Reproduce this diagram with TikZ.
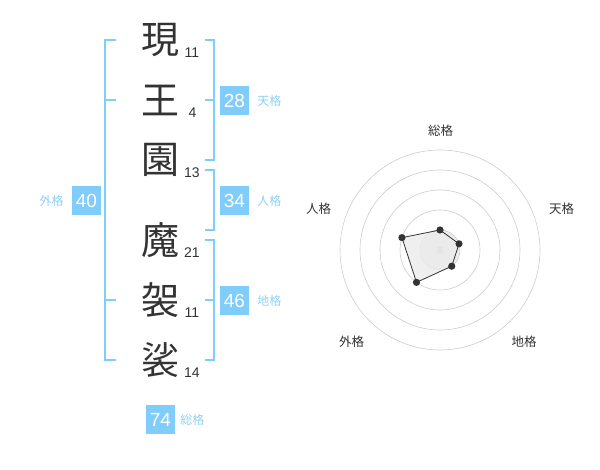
\documentclass[tikz,border=0pt]{standalone}
\usepackage{fontspec}
\setmainfont{Liberation Sans}
\newfontfamily\jpfont{Noto Sans CJK JP}
\usepackage{xcolor}
\usetikzlibrary{positioning}

\definecolor{kakublue}{HTML}{80CCFA}
\definecolor{kakulabel}{HTML}{8FD0F5}
\definecolor{inkgray}{HTML}{333333}
\definecolor{ringgray}{HTML}{CCCCCC}

\begin{document}
\begin{tikzpicture}[
    x=1pt,
    y=-1pt,
    kanji/.style={font=\jpfont\fontsize{38}{38}\selectfont,text=inkgray,inner sep=0pt},
    strokes/.style={font=\fontsize{14}{14}\selectfont,text=inkgray,inner sep=0pt},
    kakubox/.style={fill=kakublue,text=white,minimum size=29pt,inner sep=0pt,
        font=\fontsize{19}{19}\selectfont},
    kakuname/.style={font=\jpfont\fontsize{12}{12}\selectfont,text=kakulabel,inner sep=0pt},
    bracket/.style={draw=kakublue,line width=2pt},
    ring/.style={draw=ringgray,line width=0.6pt},
    axislabel/.style={font=\jpfont\fontsize{12.5}{12.5}\selectfont,text=inkgray,inner sep=0pt}
]
\useasboundingbox (0,0) rectangle (600,470);

% Name characters
\node[kanji] (c1) at (160,40) {現};
\node[kanji] (c2) at (160,100) {王};
\node[kanji] (c3) at (160,160) {園};
\node[kanji] (c4) at (160,240) {魔};
\node[kanji] (c5) at (160,300) {袈};
\node[kanji] (c6) at (160,360) {裟};

% Stroke counts
\node[strokes] (s1) at (192,53) {11};
\node[strokes] (s2) at (192.5,113) {4};
\node[strokes] (s3) at (192,173) {13};
\node[strokes] (s4) at (192,253) {21};
\node[strokes] (s5) at (192,313) {11};
\node[strokes] (s6) at (192,373) {14};

% Brackets
\draw[bracket] (115.5,40) -- (105,40) -- (105,360) -- (115.5,360);
\draw[bracket] (105,100) -- (115.5,100);
\draw[bracket] (105,300) -- (115.5,300);
\draw[bracket] (204.5,40) -- (214,40) -- (214,160) -- (204.5,160);
\draw[bracket] (204.5,100) -- (214,100);
\draw[bracket] (204.5,170) -- (214,170) -- (214,230) -- (204.5,230);
\draw[bracket] (204.5,240) -- (214,240) -- (214,360) -- (204.5,360);
\draw[bracket] (204.5,300) -- (214,300);

% Totals
\node[kakubox] (ten) at (234.5,100.5) {28};
\node[kakuname,right=8pt of ten] (tenname) {天格};
\node[kakubox] (jin) at (234.5,200.5) {34};
\node[kakuname,right=8pt of jin] (jinname) {人格};
\node[kakubox] (chi) at (234.5,300.5) {46};
\node[kakuname,right=8pt of chi] (chiname) {地格};
\node[kakubox] (gai) at (86.5,200.5) {40};
\node[kakuname,left=8pt of gai] (gainame) {外格};
\node[kakubox] (sou) at (160.5,419.5) {74};
\node[kakuname,right=5pt of sou] (souname) {総格};

% Radar chart
\begin{scope}[shift={(440,250)},yscale=-1]
  \fill[black!7] (0,0) circle (20);
  \foreach \r in {20,40,60,80,100}
    \draw[ring] (0,0) circle (\r);
  \fill[ringgray] (0,0) circle (3.6);
  \fill[black!8,opacity=0.8] (90:20) -- (18:20) -- (-54:20) -- (-126:40) -- (162:40) -- cycle;
  \draw[inkgray,line width=0.8pt] (90:20) -- (18:20) -- (-54:20) -- (-126:40) -- (162:40) -- cycle;
  \foreach \a/\r in {90/20,18/20,-54/20,-126/40,162/40}
    \fill[inkgray] (\a:\r) circle (3.6);
\end{scope}

% Axis labels
\node[axislabel] (rsou) at (440.5,130.5) {総格};
\node[axislabel] (rten) at (561.5,208.5) {天格};
\node[axislabel] (rchi) at (524,341.5) {地格};
\node[axislabel] (rgai) at (351.5,341.5) {外格};
\node[axislabel] (rjin) at (318.5,208.5) {人格};

\end{tikzpicture}
\end{document}
